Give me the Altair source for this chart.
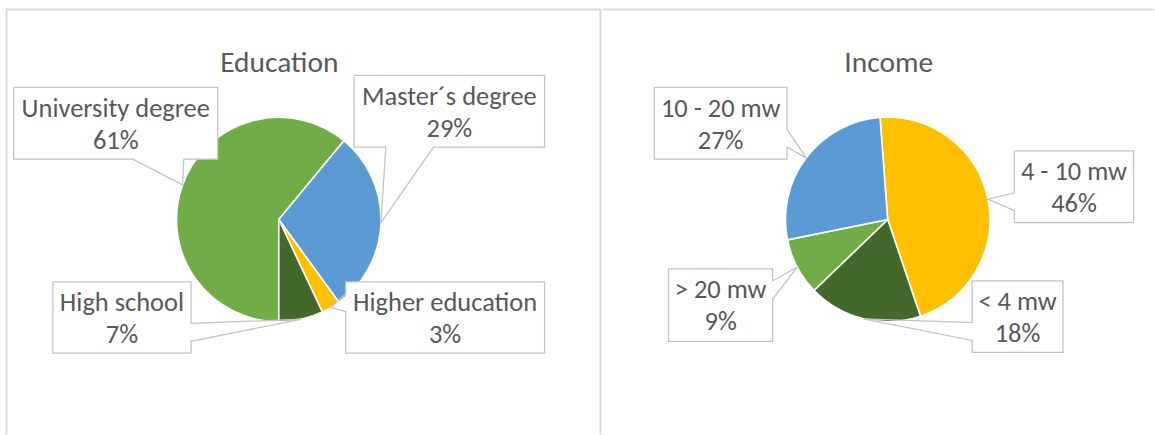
import math
import altair as alt
import pandas as pd

# ---------------- data ----------------
edu_title = "Education"
edu_names = ["University degree", "Master\u00b4s degree", "Higher education", "High school"]
edu_values = [61, 29, 3, 7]

inc_title = "Income"
inc_names = ["4 - 10 mw", "< 4 mw", "> 20 mw", "10 - 20 mw"]
inc_values = [46, 18, 9, 27]

# ---------------- styles ----------------
edu_colors = ["#70AD47", "#5B9BD5", "#FFC000", "#43682B"]
inc_colors = ["#FFC000", "#43682B", "#70AD47", "#5B9BD5"]
FONT = "Carlito, Lato, sans-serif"
TEXT_COLOR = "#595959"
LINE_COLOR = "#C4C4C4"
BORDER_COLOR = "#D9D9D9"
LABEL_SIZE = 26.5
TITLE_SIZE = 29.5
RADIUS = 102.5
W, H = 1155, 435
SPLIT = 602

# ---------------- layout (page pixels) ----------------
edu_layout = {
    "origin": 0, "width": SPLIT, "center": (279.5, 219.5), "start_deg": 180.0,
    "title_xy": (280, 72),
    "boxes": [(13.8, 87, 204.5, 72), (355, 75, 191, 72),
              (346.5, 282, 199.5, 71.5), (53, 282, 138.5, 71.5)],
    "borders": [(6, 9, SPLIT, 9), (6.5, 9, 6.5, H), (SPLIT, 9, SPLIT, H)],
}
inc_layout = {
    "origin": SPLIT, "width": W - SPLIT, "center": (888, 219.5), "start_deg": -4.3,
    "title_xy": (889, 72),
    "boxes": [(1015, 150.7, 119.5, 72), (972.7, 281, 91, 71.7),
              (668.3, 269, 104.4, 72.7), (654, 87, 133, 72)],
    "borders": [(SPLIT, 9, W, 9)],
}


def callout_outline(L, T, w, h, tx, ty):
    """Rectangle with a wedge pointing to (tx, ty), like a wedgeRectCallout."""
    hc, vc = L + w / 2, T + h / 2
    dxp, dyp = tx - hc, ty - vc
    dx, dy = dxp * h, dyp * w
    R_, B = L + w, T + h
    pts = [(L, T)]
    if abs(dx) > abs(dy):
        g1, g2 = (7, 10) if dyp > 0 else (2, 5)
        y1, y2 = T + h * g1 / 12, T + h * g2 / 12
        if dxp > 0:
            pts += [(R_, T), (R_, y1), (tx, ty), (R_, y2), (R_, B), (L, B), (L, T)]
        else:
            pts += [(R_, T), (R_, B), (L, B), (L, y2), (tx, ty), (L, y1), (L, T)]
    else:
        g1, g2 = (7, 10) if dxp > 0 else (2, 5)
        x1, x2 = L + w * g1 / 12, L + w * g2 / 12
        if dyp > 0:
            pts += [(R_, T), (R_, B), (x2, B), (tx, ty), (x1, B), (L, B), (L, T)]
        else:
            pts += [(x1, T), (tx, ty), (x2, T), (R_, T), (R_, B), (L, B), (L, T)]
    return pts


def panel(title, names, values, colors, lay):
    ox = lay["origin"]
    cx, cy = lay["center"]
    cxl = cx - ox
    total = sum(values)
    start = lay["start_deg"]

    slices, boxes, outline = [], [], []
    cum = start
    for i, (n, v, c) in enumerate(zip(names, values, colors)):
        a0 = cum
        a1 = cum + v / total * 360.0
        cum = a1
        mid = math.radians((a0 + a1) / 2)
        tx = cxl + RADIUS * math.sin(mid)
        ty = cy - RADIUS * math.cos(mid)
        slices.append({"name": n, "value": v, "color": c, "idx": i})
        L, T, w, h = lay["boxes"][i]
        L -= ox
        boxes.append({"name": n, "pct": f"{v}%", "x": L, "x2": L + w, "y": T, "y2": T + h,
                      "tx": L + w / 2, "ty1": T + 29.5, "ty2": T + 61.5})
        for k, (px, py) in enumerate(callout_outline(L, T, w, h, tx, ty)):
            outline.append({"name": n, "k": k, "px": px, "py": py})

    sdf = pd.DataFrame(slices)
    bdf = pd.DataFrame(boxes)
    odf = pd.DataFrame(outline)
    brd = pd.DataFrame([{"x": a - ox, "y": b, "x2": c - ox, "y2": d} for a, b, c, d in lay["borders"]])
    tdf = pd.DataFrame([{"t": title, "x": lay["title_xy"][0] - ox, "y": lay["title_xy"][1]}])

    s0 = math.radians(start)
    arcs = alt.Chart(sdf).mark_arc(radius=RADIUS, stroke="white", strokeWidth=1.6).encode(
        theta=alt.Theta("value:Q", stack=True,
                        scale=alt.Scale(domain=[0, total], range=[s0, s0 + 2 * math.pi])),
        color=alt.Color("color:N", scale=None),
        order=alt.Order("idx:Q"),
        x=alt.value(cxl),
        y=alt.value(cy),
    )
    border = alt.Chart(brd).mark_rule(color=BORDER_COLOR, strokeWidth=2).encode(
        x=alt.X("x:Q", scale=None), y=alt.Y("y:Q", scale=None),
        x2="x2:Q", y2="y2:Q")
    fills = alt.Chart(bdf).mark_rect(fill="white").encode(
        x=alt.X("x:Q", scale=None), x2="x2:Q",
        y=alt.Y("y:Q", scale=None), y2="y2:Q")
    lines = alt.Chart(odf).mark_line(color=LINE_COLOR, strokeWidth=1.3).encode(
        x=alt.X("px:Q", scale=None), y=alt.Y("py:Q", scale=None),
        detail="name:N", order=alt.Order("k:Q"))
    t1 = alt.Chart(bdf).mark_text(font=FONT, fontSize=LABEL_SIZE, color=TEXT_COLOR,
                                  align="center", baseline="alphabetic").encode(
        x=alt.X("tx:Q", scale=None), y=alt.Y("ty1:Q", scale=None), text="name:N")
    t2 = alt.Chart(bdf).mark_text(font=FONT, fontSize=LABEL_SIZE, color=TEXT_COLOR,
                                  align="center", baseline="alphabetic").encode(
        x=alt.X("tx:Q", scale=None), y=alt.Y("ty2:Q", scale=None), text="pct:N")
    ttl = alt.Chart(tdf).mark_text(font=FONT, fontSize=TITLE_SIZE, color=TEXT_COLOR,
                                   align="center", baseline="alphabetic").encode(
        x=alt.X("x:Q", scale=None), y=alt.Y("y:Q", scale=None), text="t:N")
    return alt.layer(border, arcs, fills, lines, t1, t2, ttl).properties(
        width=lay["width"], height=H)


left = panel(edu_title, edu_names, edu_values, edu_colors, edu_layout)
right = panel(inc_title, inc_names, inc_values, inc_colors, inc_layout)

chart = alt.hconcat(left, right, spacing=0).properties(
    padding=0, background="white"
).configure_view(stroke=None)

chart.save("out.html", embed_options={"renderer": "svg", "actions": False})
